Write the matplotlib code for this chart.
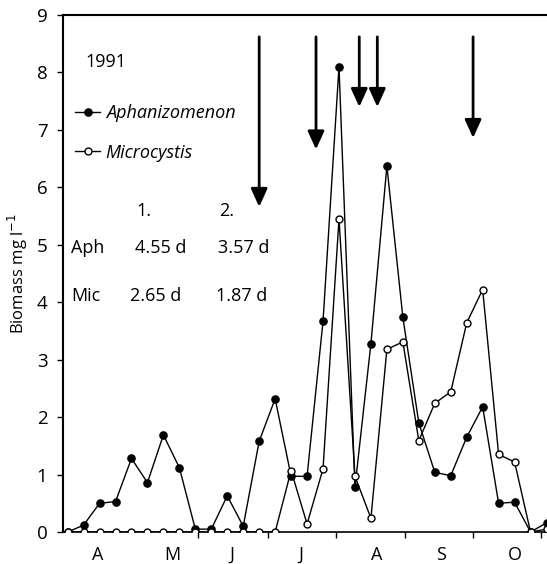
import matplotlib
matplotlib.use("Agg")
import matplotlib.pyplot as plt
import numpy as np

plt.rcParams['font.family'] = ['Open Sans', 'DejaVu Sans']

# sampling dates (index), April .. October 1991
sample = np.arange(31)
aph = [0.0, 0.12, 0.50, 0.53, 1.28, 0.86, 1.69, 1.12, 0.05, 0.05,
       0.63, 0.10, 1.58, 2.32, 0.97, 0.97, 3.67, 8.10, 0.78, 3.28,
       6.37, 3.74, 1.90, 1.04, 0.98, 1.65, 2.18, 0.50, 0.52, 0.0, 0.16]
mic = [0.0, 0.0, 0.0, 0.0, 0.0, 0.0, 0.0, 0.0, 0.0, 0.0,
       0.0, 0.0, 0.0, 0.0, 1.07, 0.14, 1.10, 5.45, 0.97, 0.24,
       3.18, 3.31, 1.59, 2.24, 2.44, 3.64, 4.22, 1.35, 1.22, 0.0, 0.05]

month_labels = ['A', 'M', 'J', 'J', 'A', 'S', 'O']
month_label_pos = [1.89, 6.58, 10.31, 14.63, 19.39, 23.38, 28.02]
month_bounds = [8.16, 12.54, 16.81, 21.14, 25.41, 29.64]

# downward arrows (events)
arrow_x = [12.0, 15.56, 18.27, 19.4, 25.4]
arrow_tip = [5.66, 6.66, 7.40, 7.40, 6.86]
arrow_top = 8.62

# doubling time table
tbl_head = ['1.', '2.']
tbl_rows = ['Aph', 'Mic']
tbl_vals = [['4.55 d', '3.57 d'], ['2.65 d', '1.87 d']]

fs = 13

fig = plt.figure(figsize=(5.47, 5.64), dpi=100)
ax = fig.add_axes([0.1146, 0.0567, 0.8845, 0.9167])

ax.plot(sample, aph, '-o', color='k', lw=1.0, ms=5.2, mfc='k', mec='k',
        label='Aphanizomenon', zorder=3)
ax.plot(sample, mic, '-o', color='k', lw=1.0, ms=5.0, mfc='white', mec='k',
        mew=1.0, label='Microcystis', zorder=4)

for x, tip in zip(arrow_x, arrow_tip):
    ax.annotate('', xy=(x, tip), xytext=(x, arrow_top),
                arrowprops=dict(arrowstyle='-|>,head_length=1.1,head_width=0.5',
                                lw=2.0, color='k', shrinkA=0, shrinkB=0,
                                mutation_scale=10))

ax.set_xlim(-0.31, 30.0)
ax.set_ylim(0, 9)
ax.set_yticks(range(10))
ax.set_xticks(month_label_pos)
ax.set_xticklabels(month_labels)
ax.set_xticks(month_bounds, minor=True)
ax.tick_params(axis='x', which='major', length=0, labelsize=13, pad=10)
ax.tick_params(axis='x', which='minor', length=4, width=1.0, direction='out')
ax.tick_params(axis='y', length=4, width=1.0, labelsize=13.5, pad=7)
ax.set_ylabel('Biomass mg l$^{-1}$', fontsize=12, labelpad=5)

for s in ['left', 'top']:
    ax.spines[s].set_linewidth(1.5)
ax.spines['bottom'].set_linewidth(1.2)
ax.spines['right'].set_linewidth(0.6)
ax.spines['right'].set_color('#888888')

ax.text(1.14, 8.19, '1991', fontsize=fs, ha='left', va='center')

leg = ax.legend(loc='upper left', bbox_to_anchor=(0.0254, 0.828), frameon=False,
                handlelength=1.4, handletextpad=0.3, labelspacing=1.2,
                borderpad=0, borderaxespad=0, prop={'size': fs, 'style': 'italic'})

ax.text(4.33, 5.58, tbl_head[0], fontsize=fs, ha='left', va='center')
ax.text(9.52, 5.58, tbl_head[1], fontsize=fs, ha='left', va='center')
row_y = [4.95, 4.10]
col_x = [[4.21, 9.39], [3.89, 9.27]]
for r, name in enumerate(tbl_rows):
    ax.text(0.24, row_y[r], name, fontsize=fs, ha='left', va='center')
    for c in range(2):
        ax.text(col_x[r][c], row_y[r], tbl_vals[r][c], fontsize=fs,
                ha='left', va='center')

fig.savefig('out.png', dpi=100)
